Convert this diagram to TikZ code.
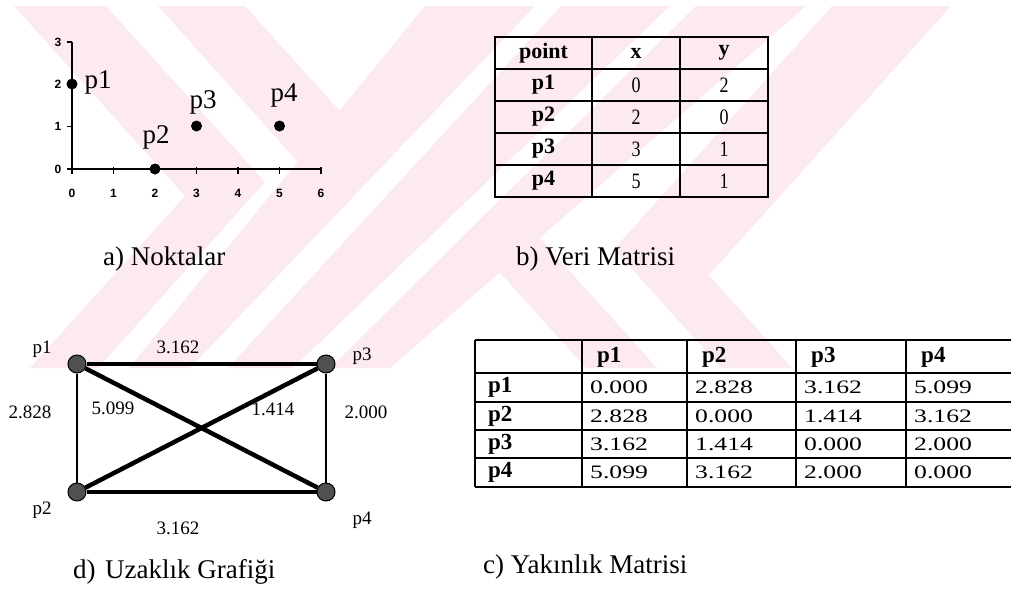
\documentclass[tikz,border=0pt]{standalone}
\usepackage{fontspec}
\setmainfont{Liberation Serif}
\setsansfont{Liberation Sans}
\newfontfamily\condserif[FakeStretch=0.82]{Liberation Serif}
\newfontfamily\wideserif[FakeStretch=1.35]{Liberation Serif}
\newcommand\fsz[1]{\fontsize{#1}{#1}\selectfont}
\definecolor{wmpink}{RGB}{252,234,238}
\definecolor{nodegray}{RGB}{80,80,80}
\tikzset{
  wmark/.style={fill=wmpink,draw=none},
  axisln/.style={line width=2pt},
  tickln/.style={line width=1.5pt},
  pdot/.style={circle,fill=black,inner sep=0pt,minimum size=11pt},
  plabel/.style={font=\fsz{27},inner sep=0pt},
  ticklbl/.style={font=\sffamily\bfseries\fsz{12},inner sep=0pt},
  captxt/.style={font=\fsz{27},inner sep=0pt,anchor=west},
  tline/.style={line width=2.8pt},
  tthin/.style={line width=1.8pt},
  tbold/.style={font=\bfseries\fsz{22},inner sep=0pt},
  tval/.style={font=\condserif\fsz{22},inner sep=0pt},
  cval/.style={font=\wideserif\fsz{19},inner sep=0pt,anchor=west},
  cbold/.style={font=\bfseries\fsz{23},inner sep=0pt,anchor=west},
  gnode/.style={circle,draw=black,fill=nodegray,minimum size=18pt,inner sep=0pt,line width=1pt},
  gedge/.style={line width=4.5pt},
  gedgethin/.style={line width=2.6pt},
  glabel/.style={font=\fsz{19},inner sep=0pt},
}
\begin{document}
\begin{tikzpicture}[x=1pt,y=-1pt]
\useasboundingbox (0,0) rectangle (1011,595);
\fill[white] (0,0) rectangle (1011,595);
% watermark
\begin{scope}
\clip (0,6) rectangle (1011,368);
\fill[wmark] (425,6) -- (535,6) -- (190,368) -- (129,368) -- cycle;
\fill[wmark] (561,6) -- (670,6) -- (293,368) -- (228,368) -- cycle;
\fill[wmark] (696,6) -- (806,6) -- (390,368) -- (330,368) -- cycle;
\fill[wmark] (14,6) -- (106,6) -- (265,182) -- (98,368) -- (30,368) -- (185,196) -- cycle;
\fill[wmark] (158,6) -- (245,6) -- (386,162) -- (298,162) -- cycle;
\fill[wmark] (465,234) -- (540,238) -- (657,368) -- (586,368) -- cycle;
\fill[wmark] (832,6) -- (951,6) -- (709,275) -- (792,368) -- (721,368) -- (614,249) -- cycle;
\end{scope}

% ---- a) scatter plot
\draw[axisln] (72,42) -- (72,169) -- (321,169);
\foreach \i in {0,...,6} {
  \draw[tickln] ({72+41.5*\i},167) -- ({72+41.5*\i},174);
  \node[ticklbl] (xt\i) at ({72+41.5*\i},193) {\i};
}
\foreach \j in {0,...,3} {
  \draw[tickln] (67,{169-42.33*\j}) -- (72,{169-42.33*\j});
  \node[ticklbl] (yt\j) at (58,{169-42.33*\j}) {\j};
}
\node[pdot] (pa1) at (72,84) {};
\node[pdot] (pa2) at (155,169) {};
\node[pdot] (pa3) at (196.5,126) {};
\node[pdot] (pa4) at (279.5,126) {};
\node[plabel] (la1) at (98,82) {p1};
\node[plabel] (la2) at (156,137) {p2};
\node[plabel] (la3) at (203,102) {p3};
\node[plabel] (la4) at (284,95) {p4};
\node[captxt] (capa) at (103,259) {a) Noktalar};

% ---- b) data matrix
\draw[tline] (495,37) rectangle (768,197);
\foreach \y in {69,101,133,165} \draw[tline] (495,\y) -- (768,\y);
\foreach \x in {592,680} \draw[tline] (\x,37) -- (\x,197);
\node[tbold] (bh1) at (543.5,53) {point};
\node[tbold] (bh2) at (636,53) {x};
\node[tbold] (bh3) at (724,53) {y};
\foreach \r/\yy/\a/\b in {1/85/0/2, 2/117/2/0, 3/149/3/1, 4/181/5/1} {
  \node[tbold] (br\r) at (543.5,\yy) {p\r};
  \node[tval] (bx\r) at (636,\yy) {\a};
  \node[tval] (by\r) at (724,\yy) {\b};
}
\node[captxt] (capb) at (516,259) {b) Veri Matrisi};

% ---- d) distance graph
\node[gnode] (g1) at (77,364) {};
\node[gnode] (g3) at (326,364) {};
\node[gnode] (g2) at (77,492) {};
\node[gnode] (g4) at (326,492) {};
\draw[gedgethin,line width=3.2pt] (g1) -- (g3);
\draw[gedgethin] (g1) -- (g2);
\draw[gedgethin] (g3) -- (g4);
\draw[gedge] (g2) -- (g4);
\draw[gedge] (g1) -- (g4);
\draw[gedge] (g2) -- (g3);
\node[glabel] (n1) at (42,349) {p1};
\node[glabel] (n3) at (362,356) {p3};
\node[glabel] (n2) at (42,510) {p2};
\node[glabel] (n4) at (362,520) {p4};
\node[glabel] (e13) at (178,347) {3.162};
\node[glabel] (e24) at (178,528) {3.162};
\node[glabel] (e12) at (30,412) {2.828};
\node[glabel] (e14) at (113,408) {5.099};
\node[glabel] (e23) at (273,409) {1.414};
\node[glabel] (e34) at (366,412) {2.000};
\node[captxt] (capd) at (73,572) {d)\hspace{0.35em}Uzaklık Grafiği};

% ---- c) proximity matrix
\draw[tthin] (475,340) -- (1015,340);
\foreach \y in {373,402,430,458,487} \draw[tline] (475,\y) -- (1015,\y);
\foreach \x in {475,582,687,796,906} \draw[tline] (\x,340) -- (\x,487);
\node[cbold] (ch1) at (597,357) {p1};
\node[cbold] (ch2) at (702,357) {p2};
\node[cbold] (ch3) at (811,357) {p3};
\node[cbold] (ch4) at (921,357) {p4};
\foreach \r/\yy/\a/\b/\c/\d in {1/387.5/0.000/2.828/3.162/5.099, 2/416/2.828/0.000/1.414/3.162, 3/444/3.162/1.414/0.000/2.000, 4/472.5/5.099/3.162/2.000/0.000} {
  \node[cbold] (cr\r) at (488,\yy) {p\r};
  \node[cval] (ca\r) at (590,\yy) {\a};
  \node[cval] (cb\r) at (695,\yy) {\b};
  \node[cval] (cc\r) at (804,\yy) {\c};
  \node[cval] (cd\r) at (914,\yy) {\d};
}
\node[captxt] (capc) at (483,567) {c) Yakınlık Matrisi};
\end{tikzpicture}
\end{document}
